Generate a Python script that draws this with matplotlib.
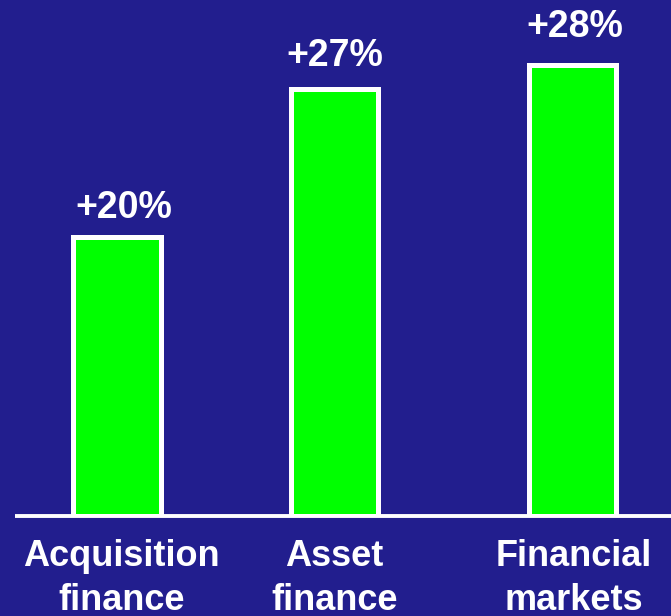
import matplotlib.pyplot as plt

# Данные
categories = ["Acquisition\nfinance", "Asset\nfinance", "Financial\nmarkets"]
heights = [61.8, 94.7, 100]         # относительный объём
growth = ["+20%", "+27%", "+28%"]   # подписи над столбцами

bg = "#221e8e"
plt.rcParams["font.family"] = ["Liberation Sans", "DejaVu Sans"]

fig = plt.figure(figsize=(6.71, 6.16), dpi=100, facecolor=bg)
# оси от базовой линии (516 px) до верха картинки
ax = fig.add_axes([0, 100 / 616, 1, 516 / 616])
ax.set_facecolor(bg)

x = [1.17, 3.345, 5.725]
ax.bar(x, heights, width=0.875, color="#00ff00", edgecolor="white",
       linewidth=3.6, zorder=2)
ax.plot([0.15, 6.71], [0, 0], color="white", lw=2.8, zorder=3,
        solid_capstyle="butt", clip_on=False)

# сдвиги подписей относительно столбцов
dx = [0.065, 0.0, 0.02]
dy = [4.2, 5.1, 6.3]
for xi, h, g, sx, sy in zip(x, heights, growth, dx, dy):
    ax.text(xi + sx, h + sy, g, ha="center", va="baseline", color="white",
            fontsize=27, fontweight="bold")

# подписи категорий: вторая строка почти у нижнего края
for xi, sx, c in zip(x, dx, categories):
    ax.text(xi + sx * 0.7, -5.2, c, ha="center", va="top", color="white",
            fontsize=26, fontweight="bold", linespacing=1.3)

ax.set_xlim(0, 6.71)
ax.set_ylim(0, 516 / 451 * 100)
ax.axis("off")

fig.savefig("out.png", dpi=100, facecolor=bg)
